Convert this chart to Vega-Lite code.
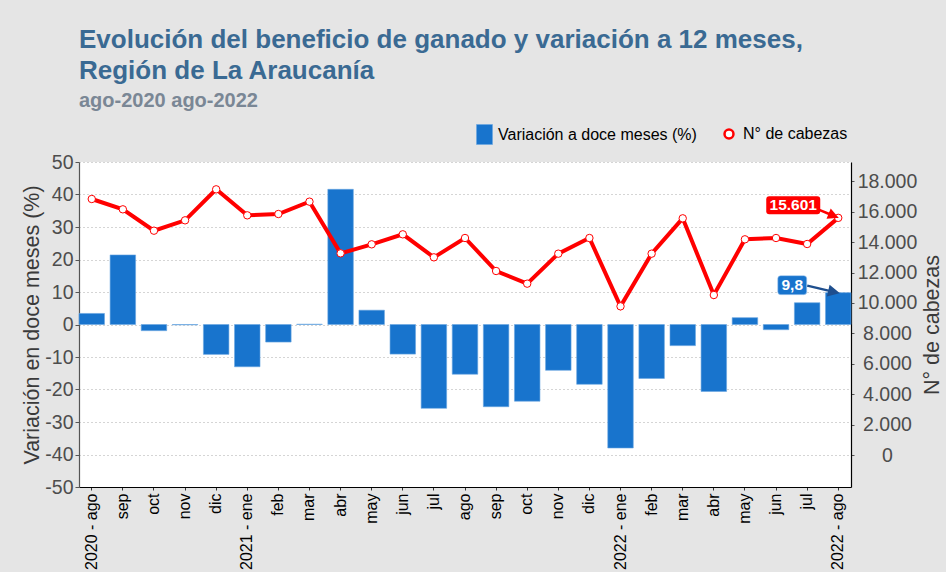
{
  "$schema": "https://vega.github.io/schema/vega-lite/v6.json",
  "width": 772,
  "height": 325,
  "autosize": {"type": "none"},
  "padding": {"left": 79, "top": 162, "right": 95, "bottom": 85},
  "background": "#E5E5E5",
  "config": {
    "locale": {"number": {"decimal": ",", "thousands": ".", "grouping": [3], "currency": ["$", ""], "minus": "-"}},
    "font": "Liberation Sans",
    "view": {"fill": "white", "stroke": null},
    "axis": {"titleFontWeight": "normal", "labelFont": "Liberation Sans", "titleFont": "Liberation Sans"},
    "legend": {"labelFont": "Liberation Sans", "labelFontSize": 16, "labelColor": "black", "labelLimit": 400}
  },
  "title": {
    "text": ["Evolución del beneficio de ganado y variación a 12 meses,", "Región de La Araucanía"],
    "subtitle": "ago-2020 ago-2022",
    "anchor": "start",
    "frame": "group",
    "font": "Liberation Sans",
    "fontSize": 26,
    "fontWeight": "bold",
    "color": "#3A6A93",
    "lineHeight": 31,
    "subtitleFont": "Liberation Sans",
    "subtitleFontSize": 20,
    "subtitleFontWeight": "bold",
    "subtitleColor": "#7A8795",
    "subtitlePadding": 7,
    "offset": 13
  },
  "data": {
    "values": [
      {"fecha": "2020-08", "var": 3.4, "cab": 16842},
      {"fecha": "2020-09", "var": 21.4, "cab": 16163},
      {"fecha": "2020-10", "var": -1.9, "cab": 14757},
      {"fecha": "2020-11", "var": -0.1, "cab": 15439},
      {"fecha": "2020-12", "var": -9.2, "cab": 17478},
      {"fecha": "2021-01", "var": -13.0, "cab": 15767},
      {"fecha": "2021-02", "var": -5.4, "cab": 15855},
      {"fecha": "2021-03", "var": 0.1, "cab": 16667},
      {"fecha": "2021-04", "var": 41.6, "cab": 13268},
      {"fecha": "2021-05", "var": 4.4, "cab": 13860},
      {"fecha": "2021-06", "var": -9.1, "cab": 14518},
      {"fecha": "2021-07", "var": -25.8, "cab": 13004},
      {"fecha": "2021-08", "var": -15.3, "cab": 14276},
      {"fecha": "2021-09", "var": -25.3, "cab": 12105},
      {"fecha": "2021-10", "var": -23.6, "cab": 11272},
      {"fecha": "2021-11", "var": -14.1, "cab": 13245},
      {"fecha": "2021-12", "var": -18.4, "cab": 14276},
      {"fecha": "2022-01", "var": -38.0, "cab": 9781},
      {"fecha": "2022-02", "var": -16.6, "cab": 13245},
      {"fecha": "2022-03", "var": -6.5, "cab": 15570},
      {"fecha": "2022-04", "var": -20.6, "cab": 10526},
      {"fecha": "2022-05", "var": 2.1, "cab": 14189},
      {"fecha": "2022-06", "var": -1.6, "cab": 14276},
      {"fecha": "2022-07", "var": 6.7, "cab": 13882},
      {"fecha": "2022-08", "var": 9.8, "cab": 15601}
    ]
  },
  "encoding": {
    "x": {
      "field": "fecha",
      "type": "ordinal",
      "sort": null,
      "title": null,
      "scale": {"paddingInner": 0.18, "paddingOuter": 0},
      "axis": {
        "labelAngle": -90,
        "labelFontSize": 16,
        "labelColor": "black",
        "labelPadding": 3,
        "labelOverlap": false,
        "domainColor": "black",
        "domainWidth": 1.2,
        "tickColor": "#333333",
        "tickSize": 3,
        "grid": false,
        "labelExpr": "(datum.value=='2020-08'||datum.value=='2022-08'||slice(datum.value,5)=='01' ? slice(datum.value,0,4)+' - ' : '') + ['ene','feb','mar','abr','may','jun','jul','ago','sep','oct','nov','dic'][toNumber(slice(datum.value,5))-1]"
      }
    }
  },
  "layer": [
    {
      "encoding": {
        "y": {
          "field": "var",
          "type": "quantitative",
          "scale": {"domain": [-50, 50], "nice": false, "zero": false},
          "axis": {
            "title": "Variación en doce meses (%)",
            "titleFontSize": 21.5,
            "titleColor": "#3A3A3A",
            "titlePadding": 1,
            "values": [-50, -40, -30, -20, -10, 0, 10, 20, 30, 40, 50],
            "labelFontSize": 19.5,
            "labelColor": "#4D4D4D",
            "labelPadding": 2,
            "tickSize": 4,
            "tickColor": "#555555",
            "domainColor": "#555555",
            "domainWidth": 1.2,
            "grid": true,
            "gridColor": "#AAAAAA",
            "gridDash": [1, 3],
            "gridWidth": 1
          }
        }
      },
      "layer": [
        {
          "mark": {"type": "bar", "stroke": "#6AA6E0", "strokeWidth": 0.6},
          "encoding": {
            "fill": {
              "datum": "Variación a doce meses (%)",
              "type": "nominal",
              "scale": {"domain": ["Variación a doce meses (%)"], "range": ["#1874CD"]},
              "legend": {
                "title": null,
                "orient": "none",
                "direction": "horizontal",
                "legendX": 395,
                "legendY": -38,
                "labelOffset": 3,
                "symbolType": "M-0.8,-1H0.8V1H-0.8Z",
                "symbolSize": 400,
                "symbolStrokeWidth": 0.6,
                "symbolStrokeColor": "#6AA6E0",
                "symbolOpacity": 1
              }
            }
          }
        },
        {
          "transform": [{"filter": "datum.fecha == '2022-08'"}],
          "mark": {
            "type": "point",
            "shape": "M-0.793,-0.655L0.793,-0.655Q1,-0.655 1,-0.448L1,0.448Q1,0.655 0.793,0.655L-0.793,0.655Q-1,0.655 -1,0.448L-1,-0.448Q-1,-0.655 -0.793,-0.655Z",
            "size": 841,
            "filled": true,
            "fill": "#1874CD",
            "stroke": "#A9CBEF",
            "strokeWidth": 0.6,
            "opacity": 1,
            "xOffset": -46,
            "yOffset": -7.5
          }
        },
        {
          "transform": [{"filter": "datum.fecha == '2022-08'"}],
          "mark": {"type": "text", "dx": -46, "dy": -7.5, "color": "white", "fontWeight": "bold", "fontSize": 15.5, "align": "center", "baseline": "middle"},
          "encoding": {"text": {"field": "var", "type": "quantitative", "format": ".1f"}}
        },
        {
          "transform": [{"filter": "datum.fecha == '2022-08'"}],
          "mark": {
            "type": "point",
            "shape": "M-1.55,-0.35L-0.44,-0.09M-0.05,0L-0.485,0.104L-0.394,-0.286Z",
            "size": 1600,
            "filled": true,
            "fill": "#1F4F8E",
            "stroke": "#1F4F8E",
            "strokeWidth": 2.5,
            "opacity": 1
          }
        }
      ]
    },
    {
      "encoding": {
        "y": {
          "field": "cab",
          "type": "quantitative",
          "scale": {"domain": [-2105, 19276], "nice": false, "zero": false},
          "axis": {
            "orient": "right",
            "title": "N° de cabezas",
            "titleAngle": 270,
            "titleFontSize": 21.5,
            "titleColor": "#3A3A3A",
            "titlePadding": 27,
            "values": [0, 2000, 4000, 6000, 8000, 10000, 12000, 14000, 16000, 18000],
            "format": ",.0f",
            "labelFontSize": 19.5,
            "labelColor": "#4D4D4D",
            "labelAlign": "center",
            "labelPadding": 33,
            "tickSize": 3,
            "tickColor": "#555555",
            "domainColor": "black",
            "domainWidth": 1.2,
            "grid": false
          }
        }
      },
      "layer": [
        {
          "mark": {"type": "line", "strokeWidth": 4},
          "encoding": {
            "stroke": {
              "datum": "N° de cabezas",
              "type": "nominal",
              "scale": {"domain": ["N° de cabezas"], "range": ["#FF0000"]},
              "legend": {
                "title": null,
                "orient": "none",
                "direction": "horizontal",
                "legendX": 642,
                "legendY": -36,
                "labelOffset": 6,
                "symbolType": "circle",
                "symbolSize": 80,
                "symbolStrokeWidth": 2.5,
                "symbolFillColor": "white",
                "symbolOpacity": 1
              }
            }
          }
        },
        {
          "mark": {"type": "point", "filled": false, "fill": "white", "size": 55, "strokeWidth": 1, "opacity": 1},
          "encoding": {"stroke": {"datum": "N° de cabezas", "type": "nominal"}}
        },
        {
          "transform": [{"filter": "datum.fecha == '2022-08'"}],
          "mark": {
            "type": "point",
            "shape": "M-0.889,-0.333L0.889,-0.333Q1,-0.333 1,-0.222L1,0.222Q1,0.333 0.889,0.333L-0.889,0.333Q-1,0.333 -1,0.222L-1,-0.222Q-1,-0.333 -0.889,-0.333Z",
            "size": 2916,
            "filled": true,
            "fill": "#FF0000",
            "strokeWidth": 0,
            "opacity": 1,
            "xOffset": -45,
            "yOffset": -12.5
          }
        },
        {
          "transform": [{"filter": "datum.fecha == '2022-08'"}],
          "mark": {"type": "text", "dx": -45, "dy": -12.5, "color": "white", "fontWeight": "bold", "fontSize": 15.5, "align": "center", "baseline": "middle"},
          "encoding": {"text": {"field": "cab", "type": "quantitative", "format": ",.0f"}}
        },
        {
          "transform": [{"filter": "datum.fecha == '2022-08'"}],
          "mark": {
            "type": "point",
            "shape": "M-0.95,-0.4L-0.42,-0.18M-0.1,-0.05L-0.49,-0.02L-0.357,-0.345Z",
            "size": 1600,
            "filled": true,
            "fill": "#FF0000",
            "stroke": "#FF0000",
            "strokeWidth": 2.5,
            "opacity": 1
          }
        }
      ]
    }
  ],
  "resolve": {"scale": {"y": "independent"}}
}
